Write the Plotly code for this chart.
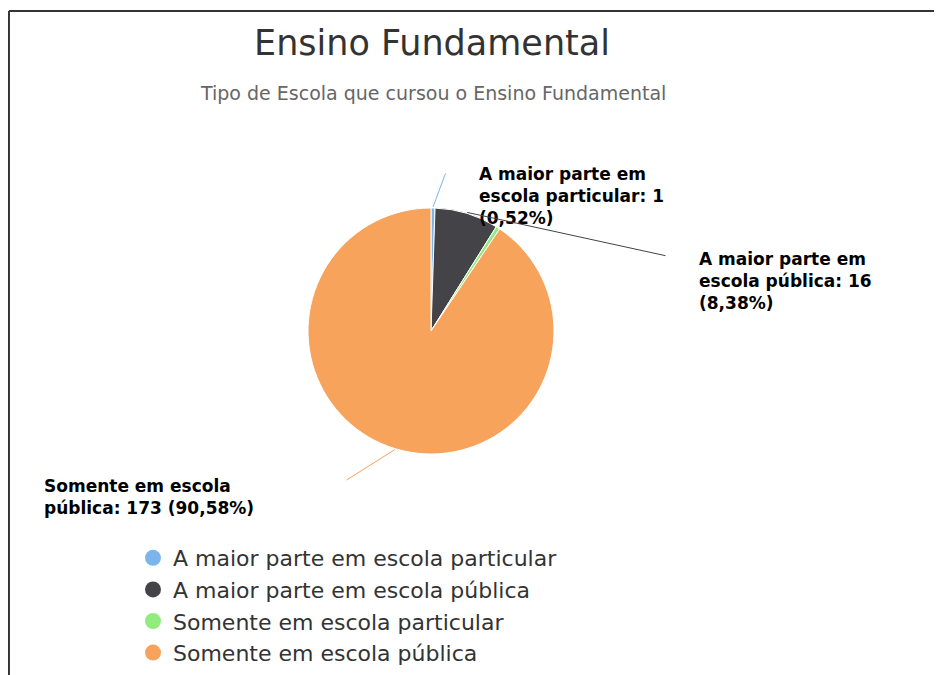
import math
import plotly.graph_objects as go

# ---- data ----
categories = [
    "A maior parte em escola particular",
    "A maior parte em escola pública",
    "Somente em escola particular",
    "Somente em escola pública",
]
values = [1, 16, 1, 173]
colors = ["#7cb5ec", "#434348", "#90ed7d", "#f7a35c"]

# wrapped label names as shown on the chart (None = label hidden)
label_names = [
    "A maior parte em<br>escola particular",
    "A maior parte em<br>escola pública",
    None,
    "Somente em escola<br>pública",
]
label_pct_sep = ["<br>", "<br>", "<br>", " "]

title_text = "Ensino Fundamental"
subtitle_text = "Tipo de Escola que cursou o Ensino Fundamental"

# ---- layout constants (page pixels) ----
W, H = 942, 675
OFF = 8  # page body margin of the html page
CX, CY, R = 431, 331, 123
# label anchor (left, top) and connector tail for each slice
label_pos = [(477, 162), (697, 247), None, (42, 474)]
tail_pos = [(446, 172), (667, 256), None, (345, 481)]


def px_x(x):
    return (x - OFF) / W


def px_y(y):
    return 1 - (y - OFF) / H


total = sum(values)
pcts = [v / total * 100 for v in values]

fig = go.Figure()
fig.add_trace(go.Pie(
    labels=categories,
    values=values,
    marker=dict(colors=colors, line=dict(color="#ffffff", width=1)),
    sort=False,
    direction="clockwise",
    rotation=0,
    textinfo="none",
    hoverinfo="label+value+percent",
    showlegend=False,
    domain=dict(x=[px_x(CX - R), px_x(CX + R)], y=[px_y(CY + R), px_y(CY - R)]),
))

# legend entries with circle symbols
for cat, col in zip(categories, colors):
    fig.add_trace(go.Scatter(
        x=[None], y=[None], mode="markers", name=cat,
        marker=dict(symbol="circle", size=16, color=col),
        showlegend=True, hoverinfo="skip",
    ))

annotations = []
cum = 0.0
for i, v in enumerate(values):
    mid = (cum + v / 2) / total
    cum += v
    if label_names[i] is None:
        continue
    ang = 2 * math.pi * mid
    hx = CX + (R + 1) * math.sin(ang)
    hy = CY - (R + 1) * math.cos(ang)
    tx, ty = tail_pos[i]
    annotations.append(dict(
        x=px_x(hx), y=px_y(hy), xref="paper", yref="paper",
        ax=tx - hx, ay=ty - hy, axref="pixel", ayref="pixel",
        text="", showarrow=True, arrowhead=0, arrowwidth=1,
        arrowcolor=colors[i],
    ))
    pct = f"{pcts[i]:.2f}".replace(".", ",")
    txt = f"{label_names[i]}: {v}{label_pct_sep[i]}({pct}%)"
    lx, ly = label_pos[i]
    annotations.append(dict(
        x=px_x(lx), y=px_y(ly), xref="paper", yref="paper",
        xanchor="left", yanchor="top", align="left",
        text=txt, showarrow=False,
        font=dict(family="DejaVu Sans", size=17, color="#000000", weight="bold"),
    ))

annotations.append(dict(
    x=px_x(433), y=px_y(93), xref="paper", yref="paper",
    xanchor="center", yanchor="middle", text=subtitle_text, showarrow=False,
    font=dict(family="DejaVu Sans", size=19, color="#666666"),
))

fig.update_layout(
    width=W, height=H,
    margin=dict(l=0, r=0, t=0, b=0),
    paper_bgcolor="#ffffff", plot_bgcolor="#ffffff",
    title=dict(
        text=title_text, x=px_x(432), xanchor="center",
        y=px_y(43), yanchor="middle", yref="container",
        font=dict(family="DejaVu Sans", size=35, color="#333333"),
    ),
    xaxis=dict(visible=False), yaxis=dict(visible=False),
    legend=dict(
        x=px_x(133), y=px_y(537), xanchor="left", yanchor="top",
        font=dict(family="DejaVu Sans", size=22, color="#333333"),
        bgcolor="rgba(0,0,0,0)", tracegroupgap=0,
    ),
    annotations=annotations,
    shapes=[
        dict(type="line", xref="paper", yref="paper", x0=0.001, x1=1, y0=px_y(11), y1=px_y(11),
             line=dict(color="#333333", width=2)),
        dict(type="line", xref="paper", yref="paper", x0=0.001, x1=0.001, y0=px_y(11), y1=0,
             line=dict(color="#333333", width=2)),
    ],
)

fig.write_html("out.html")
